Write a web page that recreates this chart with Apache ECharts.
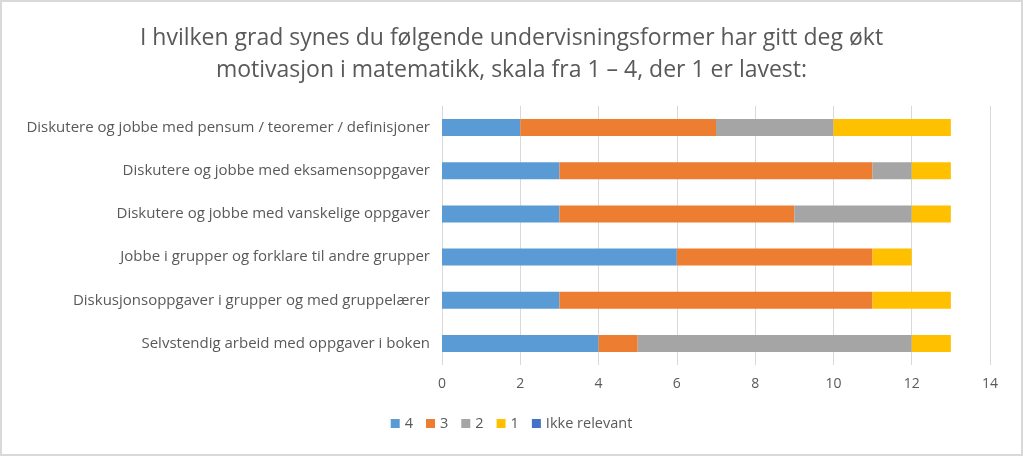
<!DOCTYPE html>
<html><head><meta charset="utf-8">
<script src="https://cdn.jsdelivr.net/npm/echarts@6/dist/echarts.min.js"></script>
<style>html,body{margin:0;padding:0;background:#fff}#c{width:1023px;height:456px;box-sizing:border-box;border:2px solid #d9d9d9}</style>
</head><body><div id="c"></div>
<script>
const categories = [
  "Diskutere og jobbe med pensum / teoremer / definisjoner",
  "Diskutere og jobbe med eksamensoppgaver",
  "Diskutere og jobbe med vanskelige oppgaver",
  "Jobbe i grupper og forklare til andre grupper",
  "Diskusjonsoppgaver i grupper og med gruppelærer",
  "Selvstendig arbeid med oppgaver i boken"
];
const s4 = [2, 3, 3, 6, 3, 4];
const s3 = [5, 8, 6, 5, 8, 1];
const s2 = [3, 1, 3, 0, 0, 7];
const s1 = [3, 1, 1, 1, 2, 1];
const sIR = [0, 0, 0, 0, 0, 0];
const seriesNames = ["4", "3", "2", "1", "Ikke relevant"];
const seriesData = [s4, s3, s2, s1, sIR];
const colors = ["#5B9BD5", "#ED7D31", "#A5A5A5", "#FFC000", "#4472C4"];
const FONT = "'Open Sans', 'Liberation Sans', sans-serif";
const chart = echarts.init(document.getElementById('c'));
chart.setOption({
  animation: false,
  title: {
    text: "I hvilken grad synes du følgende undervisningsformer har gitt deg økt\nmotivasjon i matematikk, skala fra 1 – 4, der 1 er lavest:",
    left: 'center', top: 15,
    textStyle: { fontFamily: FONT, fontSize: 23, fontWeight: 'normal', color: '#595959', lineHeight: 32 }
  },
  legend: {
    bottom: 18, left: 'center', itemWidth: 9, itemHeight: 9, itemGap: 13,
    icon: 'rect',
    textStyle: { fontFamily: FONT, fontSize: 14.5, color: '#595959' },
    data: seriesNames
  },
  grid: { left: 440, right: 31, top: 104, bottom: 89 },
  xAxis: {
    type: 'value', min: 0, max: 14, interval: 2,
    axisLine: { show: false }, axisTick: { show: false },
    splitLine: { lineStyle: { color: '#d9d9d9' } },
    axisLabel: { fontFamily: FONT, fontSize: 14, color: '#595959', margin: 12 }
  },
  yAxis: {
    type: 'category', inverse: true, data: categories,
    axisLine: { show: false }, axisTick: { show: false },
    axisLabel: { fontFamily: FONT, fontSize: 15, color: '#595959', margin: 12 }
  },
  series: seriesNames.map((n, i) => ({
    name: n, type: 'bar', stack: 'a', data: seriesData[i],
    barWidth: 17, itemStyle: { color: colors[i] }
  }))
});
</script></body></html>
